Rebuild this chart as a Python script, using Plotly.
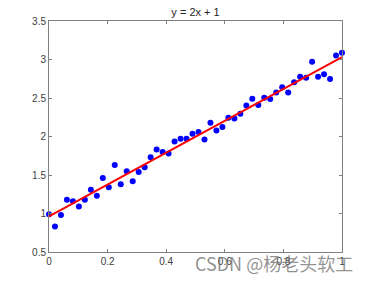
import numpy as np
import plotly.graph_objects as go

x_vals = [0.0, 0.0204, 0.0408, 0.0612, 0.0816, 0.1020, 0.1224, 0.1429, 0.1633, 0.1837,
          0.2041, 0.2245, 0.2449, 0.2653, 0.2857, 0.3061, 0.3265, 0.3469, 0.3673, 0.3878,
          0.4082, 0.4286, 0.4490, 0.4694, 0.4898, 0.5102, 0.5306, 0.5510, 0.5714, 0.5918,
          0.6122, 0.6327, 0.6531, 0.6735, 0.6939, 0.7143, 0.7347, 0.7551, 0.7755, 0.7959,
          0.8163, 0.8367, 0.8571, 0.8776, 0.8980, 0.9184, 0.9388, 0.9592, 0.9796, 1.0]
y_vals = [0.99, 0.83, 0.98, 1.18, 1.16, 1.09, 1.18, 1.31, 1.23, 1.46,
          1.34, 1.63, 1.38, 1.55, 1.42, 1.54, 1.60, 1.73, 1.83, 1.80,
          1.78, 1.935, 1.97, 1.97, 2.036, 2.06, 1.962, 2.179, 2.079, 2.123,
          2.244, 2.235, 2.296, 2.404, 2.491, 2.409, 2.504, 2.487, 2.573, 2.638,
          2.573, 2.703, 2.777, 2.764, 2.971, 2.777, 2.807, 2.747, 3.053, 3.088]

x_ticks = [0, 0.2, 0.4, 0.6, 0.8, 1]
x_labels = ["0", "0.2", "0.4", "0.6", "0.8", "1"]
y_ticks = [0.5, 1, 1.5, 2, 2.5, 3, 3.5]
y_labels = ["0.5", "1", "1.5", "2", "2.5", "3", "3.5"]

title_text = "y = 2x + 1"
watermark = "CSDN @杨老头软工"

# least-squares fit line
slope, intercept = np.polyfit(x_vals, y_vals, 1)
fit_x = [x_vals[0], x_vals[-1]]
fit_y = [intercept + slope * v for v in fit_x]

FONT = "Liberation Sans, Arial, Helvetica, sans-serif"
AX = "#808080"

fig = go.Figure()
fig.add_trace(go.Scatter(x=x_vals, y=y_vals, mode="markers", cliponaxis=False,
                         marker=dict(color="#0000ff", size=6, line=dict(width=0)),
                         showlegend=False, hoverinfo="skip"))
fig.add_trace(go.Scatter(x=fit_x, y=fit_y, mode="lines",
                         line=dict(color="#ff0000", width=2),
                         showlegend=False, hoverinfo="skip"))

axis_common = dict(showgrid=False, zeroline=False, showline=True, linecolor=AX,
                   linewidth=1, mirror="ticks", ticks="inside", ticklen=3,
                   tickcolor=AX, tickwidth=1,
                   tickfont=dict(family=FONT, size=10, color="#404040"))

fig.update_layout(
    width=378, height=284,
    margin=dict(l=49, r=36, t=21, b=32),
    paper_bgcolor="white", plot_bgcolor="white",
    title=dict(text=title_text, x=0.5, xref="paper", xanchor="center",
               y=1 - 12 / 284, yref="container", yanchor="middle",
               font=dict(family=FONT, size=11, color="#262626")),
    xaxis=dict(range=[0, 1], tickvals=x_ticks, ticktext=x_labels, **axis_common),
    yaxis=dict(range=[0.5, 3.5], tickvals=y_ticks, ticktext=y_labels, **axis_common),
    annotations=[dict(text=watermark, x=0.49, y=-0.046, xref="paper", yref="paper",
                      xanchor="left", yanchor="middle", showarrow=False,
                      font=dict(family="Noto Sans CJK SC, " + FONT, size=18,
                                color="rgba(110,110,110,0.75)"))],
)

fig.write_html("out.html")
